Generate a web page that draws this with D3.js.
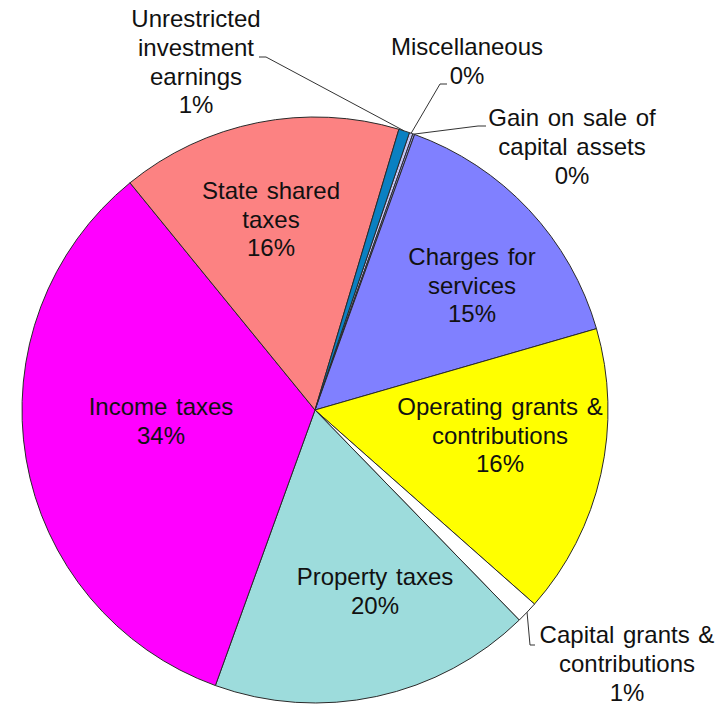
<!DOCTYPE html>
<html>
<head>
<meta charset="utf-8">
<script src="https://cdnjs.cloudflare.com/ajax/libs/d3/7.8.5/d3.min.js"></script>
<style>
  body { margin: 0; background: #fff; }
  svg text { font-family: "Liberation Sans", Arial, sans-serif; font-size: 24px; fill: #111; word-spacing: 2px; }
</style>
</head>
<body>
<svg id="chart"></svg>
<script>
// slice data (clockwise, starting just right of 12 o'clock)
const categories = ["Miscellaneous", "Gain on sale of capital assets", "Charges for services",
  "Operating grants & contributions", "Capital grants & contributions", "Property taxes",
  "Income taxes", "State shared taxes", "Unrestricted investment earnings"];
const values = [0.2, 0.1, 15.0, 16.0, 1.2, 17.8, 33.6, 15.5, 0.6];
const pctLabels = ["0%", "0%", "15%", "16%", "1%", "20%", "34%", "16%", "1%"];
const labelLines = [["Miscellaneous"], ["Gain on sale of", "capital assets"], ["Charges for", "services"],
  ["Operating grants &", "contributions"], ["Capital grants &", "contributions"], ["Property taxes"],
  ["Income taxes"], ["State shared", "taxes"], ["Unrestricted", "investment", "earnings"]];
const colors = ["#c4c4f4", "#9a9af0", "#8080ff", "#ffff00", "#ffffff", "#9ddcdc", "#ff00ff", "#fc8282", "#0a80c2"];

const width = 725, height = 705;
const cx = 315, cy = 410, R = 293;
const lh = 28.8;

const svg = d3.select("#chart").attr("width", width).attr("height", height);
const g = svg.append("g").attr("transform", `translate(${cx},${cy})`);

const start = 18.8 * Math.PI / 180;
const pie = d3.pie().sort(null).value(d => d.v).startAngle(start).endAngle(start + 2 * Math.PI);
const arcs = pie(values.map((v, i) => ({ v, i })));
const arc = d3.arc().innerRadius(0).outerRadius(R);
const edge = d3.arc().innerRadius(R).outerRadius(R);

g.selectAll("path.slice")
  .data(arcs)
  .join("path")
  .attr("class", "slice")
  .attr("d", arc)
  .attr("fill", d => colors[d.data.i])
  .attr("stroke", "#2a2a2a")
  .attr("stroke-width", 1);

// label blocks inside the pie (centre of block, relative to pie centre)
const inside = { 2: [157, -125], 3: [185, 25], 5: [60, 181], 6: [-154, 11], 7: [-44, -191] };
// outside labels: text centre x, first baseline, leader elbow points (page coords)
const outside = {
  8: { x: 196, y: 27, path: [[259, 57], [266, 57]] },
  0: { x: 467, y: 55, path: [[447, 84], [440, 84]] },
  1: { x: 572, y: 126, path: [[486, 126], [478, 126]] },
  4: { x: 627, y: 643, path: [[535, 645], [530, 645]] }
};

function block(x, y0, lines) {
  const t = svg.append("text").attr("text-anchor", "middle");
  lines.forEach((s, k) => t.append("tspan").attr("x", x).attr("y", y0 + k * lh).text(s));
}

arcs.forEach(d => {
  const i = d.data.i;
  const lines = labelLines[i].concat([pctLabels[i]]);
  if (inside[i]) {
    const [dx, dy] = inside[i];
    const y0 = cy + dy - (lines.length - 1) * lh / 2 + 8.6;
    block(cx + dx, y0, lines);
  } else if (outside[i]) {
    const o = outside[i];
    block(o.x, o.y, lines);
    const p = edge.centroid(d);
    const pts = o.path.concat([[cx + p[0], cy + p[1]]]);
    svg.append("path")
      .attr("d", d3.line()(pts))
      .attr("fill", "none")
      .attr("stroke", "#333")
      .attr("stroke-width", 1);
  }
});
</script>
</body>
</html>
